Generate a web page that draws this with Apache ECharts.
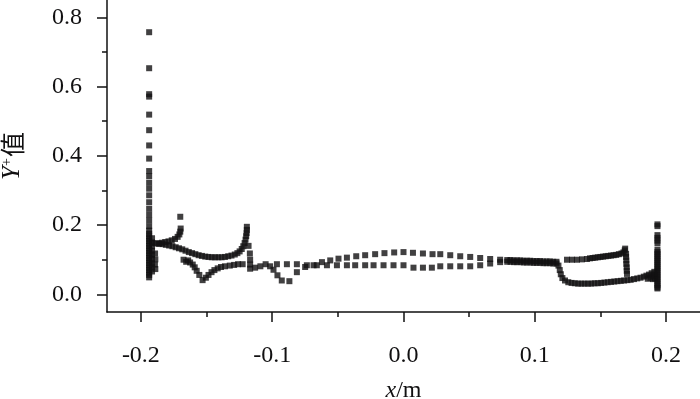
<!DOCTYPE html>
<html>
<head>
<meta charset="utf-8">
<script src="https://cdn.jsdelivr.net/npm/echarts@6/dist/echarts.min.js"></script>
<style>
html, body { margin: 0; padding: 0; background: #fff; }
#chart { width: 700px; height: 399px; }
</style>
</head>
<body>
<div id="chart"></div>
<script>
// axis ranges and ticks
const xMin = -0.2258, xMax = 0.2258;
const yMin = -0.051, yMax = 0.85;
const xMajor = [-0.2, -0.1, 0, 0.1, 0.2];
const xMinor = [-0.15, -0.05, 0.05, 0.15];
const yMajor = [0, 0.2, 0.4, 0.6, 0.8];
const yMinor = [0.1, 0.3, 0.5, 0.7];

// left wall column
const leftWall = [
    [-0.1937, 0.757], [-0.1937, 0.653], [-0.1937, 0.578], [-0.1937, 0.571], [-0.1937, 0.519],
    [-0.1937, 0.474], [-0.1937, 0.430], [-0.1937, 0.392], [-0.1937, 0.356], [-0.1937, 0.341],
    [-0.1937, 0.322], [-0.1937, 0.305], [-0.1937, 0.286], [-0.1937, 0.266], [-0.1937, 0.247],
    [-0.1937, 0.230], [-0.1937, 0.214], [-0.1937, 0.197], [-0.1937, 0.184], [-0.1937, 0.175],
    [-0.1937, 0.168], [-0.1937, 0.161], [-0.1937, 0.154], [-0.1937, 0.147], [-0.1937, 0.140],
    [-0.1937, 0.133], [-0.1937, 0.126], [-0.1937, 0.119], [-0.1937, 0.112], [-0.1937, 0.105],
    [-0.1937, 0.098], [-0.1937, 0.091], [-0.1937, 0.084], [-0.1937, 0.077], [-0.1937, 0.070],
    [-0.1937, 0.063], [-0.1937, 0.056], [-0.1937, 0.049]
];
const leftWallInner = [
    [-0.1915, 0.162], [-0.1915, 0.150], [-0.1915, 0.138], [-0.1915, 0.126], [-0.1915, 0.114],
    [-0.1915, 0.102], [-0.1915, 0.090], [-0.1915, 0.078], [-0.1915, 0.066],
    [-0.1892, 0.118], [-0.1890, 0.101], [-0.1893, 0.086], [-0.1890, 0.073]
];

// curve from the wall to the spike at -0.12
const upperLeftCurve = [
    [-0.1910, 0.148], [-0.1885, 0.147], [-0.1860, 0.146], [-0.1835, 0.145], [-0.1810, 0.143],
    [-0.1785, 0.141], [-0.1760, 0.139], [-0.1735, 0.136], [-0.1710, 0.133], [-0.1685, 0.130],
    [-0.1660, 0.126], [-0.1635, 0.122], [-0.1610, 0.119], [-0.1585, 0.116], [-0.1560, 0.113],
    [-0.1535, 0.111], [-0.1510, 0.109], [-0.1485, 0.108], [-0.1460, 0.107], [-0.1435, 0.107],
    [-0.1410, 0.107], [-0.1385, 0.107], [-0.1360, 0.108], [-0.1335, 0.110], [-0.1310, 0.112],
    [-0.1285, 0.115], [-0.1265, 0.119], [-0.1248, 0.124], [-0.1232, 0.131], [-0.1220, 0.139],
    [-0.1210, 0.148], [-0.1203, 0.158], [-0.1198, 0.168], [-0.1195, 0.177], [-0.1193, 0.186],
    [-0.1193, 0.195]
];
const spikeBranch = [
    [-0.1700, 0.224], [-0.1697, 0.190], [-0.1700, 0.181], [-0.1707, 0.173], [-0.1720, 0.166],
    [-0.1740, 0.160], [-0.1765, 0.156], [-0.1790, 0.153], [-0.1815, 0.151], [-0.1840, 0.149],
    [-0.1865, 0.147]
];
const dipBranch = [
    [-0.1675, 0.100], [-0.1655, 0.094], [-0.1640, 0.098], [-0.1625, 0.092], [-0.1605, 0.086],
    [-0.1590, 0.078], [-0.1575, 0.068], [-0.1555, 0.056], [-0.1530, 0.041], [-0.1505, 0.048],
    [-0.1485, 0.056], [-0.1462, 0.064], [-0.1440, 0.070], [-0.1415, 0.075], [-0.1390, 0.079],
    [-0.1360, 0.081], [-0.1323, 0.083], [-0.1290, 0.085], [-0.1260, 0.087], [-0.1225, 0.087]
];
const spikeDown = [
    [-0.1180, 0.140], [-0.1170, 0.118], [-0.1168, 0.100], [-0.1168, 0.086]
];
const waveBranch = [
    [-0.1168, 0.074], [-0.1130, 0.077], [-0.1090, 0.081], [-0.1050, 0.087], [-0.1016, 0.081],
    [-0.0990, 0.071], [-0.0960, 0.055], [-0.0927, 0.040], [-0.0869, 0.038], [-0.0812, 0.064],
    [-0.0749, 0.079]
];

// middle rows
const rowLower = [
    [-0.0964, 0.087], [-0.0888, 0.087], [-0.0812, 0.087], [-0.0736, 0.084], [-0.0660, 0.084],
    [-0.0583, 0.084], [-0.0507, 0.084], [-0.0431, 0.084], [-0.0368, 0.084], [-0.0292, 0.084],
    [-0.0228, 0.084], [-0.0152, 0.084], [-0.0076, 0.084], [0.0000, 0.084], [0.0076, 0.077],
    [0.0148, 0.077], [0.0216, 0.077], [0.0280, 0.081], [0.0356, 0.081], [0.0432, 0.081],
    [0.0508, 0.081], [0.0584, 0.084], [0.0660, 0.089], [0.0736, 0.093]
];
const rowUpper = [
    [-0.0685, 0.084], [-0.0621, 0.093], [-0.0558, 0.098], [-0.0495, 0.103], [-0.0431, 0.106],
    [-0.0360, 0.110], [-0.0292, 0.113], [-0.0216, 0.116], [-0.0145, 0.119], [-0.0071, 0.121],
    [0.0000, 0.122], [0.0072, 0.120], [0.0148, 0.118], [0.0221, 0.116], [0.0280, 0.116],
    [0.0356, 0.113], [0.0432, 0.110], [0.0508, 0.108], [0.0584, 0.105], [0.0660, 0.102],
    [0.0736, 0.100]
];
const bandUpper = [
    [0.0790, 0.099], [0.0815, 0.099], [0.0840, 0.098], [0.0865, 0.098], [0.0890, 0.098],
    [0.0915, 0.097], [0.0940, 0.097], [0.0965, 0.097], [0.0990, 0.096], [0.1015, 0.096],
    [0.1040, 0.096], [0.1065, 0.095], [0.1090, 0.095], [0.1115, 0.095], [0.1140, 0.094],
    [0.1165, 0.094]
];
const bandLower = [
    [0.0790, 0.094], [0.0815, 0.094], [0.0840, 0.093], [0.0865, 0.093], [0.0890, 0.093],
    [0.0915, 0.092], [0.0940, 0.092], [0.0965, 0.092], [0.0990, 0.091], [0.1015, 0.091],
    [0.1040, 0.091], [0.1065, 0.090], [0.1090, 0.090], [0.1115, 0.090], [0.1140, 0.089],
    [0.1165, 0.089]
];

// right part
const rightBottom = [
    [0.1180, 0.083], [0.1190, 0.070], [0.1198, 0.058], [0.1210, 0.047], [0.1230, 0.040],
    [0.1255, 0.035], [0.1280, 0.033], [0.1305, 0.032], [0.1330, 0.031], [0.1355, 0.031],
    [0.1380, 0.031], [0.1405, 0.031], [0.1430, 0.031], [0.1455, 0.032], [0.1480, 0.032],
    [0.1505, 0.033], [0.1530, 0.034], [0.1555, 0.035], [0.1580, 0.036], [0.1605, 0.037],
    [0.1630, 0.038], [0.1655, 0.039], [0.1680, 0.040], [0.1705, 0.041], [0.1730, 0.042],
    [0.1755, 0.044], [0.1780, 0.046], [0.1805, 0.048], [0.1830, 0.051], [0.1850, 0.054],
    [0.1870, 0.057], [0.1890, 0.061], [0.1910, 0.065],
    [0.1860, 0.045], [0.1880, 0.048], [0.1900, 0.052], [0.1915, 0.056], [0.1900, 0.044],
    [0.1915, 0.046]
];
const rightUpper = [
    [0.1245, 0.100], [0.1283, 0.100], [0.1321, 0.100], [0.1359, 0.101], [0.1397, 0.102],
    [0.1420, 0.104], [0.1440, 0.105], [0.1460, 0.106], [0.1480, 0.107], [0.1500, 0.108],
    [0.1520, 0.109], [0.1540, 0.110], [0.1560, 0.111], [0.1580, 0.112], [0.1600, 0.113],
    [0.1620, 0.114], [0.1640, 0.116], [0.1660, 0.118], [0.1675, 0.121], [0.1685, 0.127],
    [0.1688, 0.132],
    [0.1695, 0.117], [0.1695, 0.108], [0.1697, 0.098], [0.1697, 0.088], [0.1700, 0.078],
    [0.1700, 0.068], [0.1702, 0.059]
];
const rightWall = [
    [0.1934, 0.202], [0.1934, 0.197], [0.1934, 0.171], [0.1934, 0.163], [0.1934, 0.155],
    [0.1934, 0.147], [0.1934, 0.128], [0.1934, 0.122], [0.1934, 0.116], [0.1934, 0.110],
    [0.1934, 0.104], [0.1934, 0.098], [0.1934, 0.092], [0.1934, 0.086], [0.1934, 0.080],
    [0.1934, 0.074], [0.1934, 0.068], [0.1934, 0.062], [0.1934, 0.056], [0.1934, 0.050],
    [0.1934, 0.044], [0.1934, 0.038], [0.1934, 0.032], [0.1934, 0.026], [0.1934, 0.020],
    [0.1934, 0.017]
];

const ink = "#111011";
const serif = "'Liberation Serif', 'Times New Roman', Times, serif";

const allPoints = [].concat(
    leftWall, leftWallInner, upperLeftCurve, spikeBranch, dipBranch, spikeDown, waveBranch,
    rowLower, rowUpper, bandUpper, bandLower, rightBottom, rightUpper, rightWall
);

const fmt = (v) => v.toFixed(1);

const option = {
    animation: false,
    backgroundColor: "#fff",
    grid: {
        left: 107,
        right: 0,
        top: 0,
        bottom: 87,
        containLabel: false,
        outerBoundsMode: "none",
    },
    xAxis: [
        {
            type: "value",
            min: xMin,
            max: xMax,
            position: "bottom",
            name: "{i|x}/m",
            nameLocation: "middle",
            nameGap: 67,
            nameMoveOverlap: false,
            nameTextStyle: {
                color: ink,
                fontFamily: serif,
                fontSize: 24,
                rich: {
                    i: { fontStyle: "italic", fontFamily: serif, fontSize: 24, color: ink },
                },
            },
            axisLine: { show: true, onZero: false, lineStyle: { color: ink, width: 1.5 } },
            axisTick: { show: true, customValues: xMajor, length: 10, lineStyle: { color: ink, width: 1.5 } },
            axisLabel: {
                customValues: xMajor,
                formatter: fmt,
                margin: 32,
                color: ink,
                fontFamily: serif,
                fontSize: 24,
            },
            splitLine: { show: false },
        },
        {
            // minor ticks
            type: "value",
            min: xMin,
            max: xMax,
            position: "bottom",
            axisLine: { show: false, onZero: false },
            axisTick: { show: true, customValues: xMinor, length: 5, lineStyle: { color: ink, width: 1.5 } },
            axisLabel: { show: false },
            splitLine: { show: false },
        },
    ],
    yAxis: [
        {
            type: "value",
            min: yMin,
            max: yMax,
            position: "left",
            name: "{i|Y}{s|+}{c|值}",
            nameLocation: "middle",
            nameGap: 82,
            nameMoveOverlap: false,
            nameTextStyle: {
                color: ink,
                fontFamily: serif,
                fontSize: 24,
                rich: {
                    i: { fontStyle: "italic", fontFamily: serif, fontSize: 25, color: ink },
                    s: { fontFamily: serif, fontSize: 14, color: ink, verticalAlign: "top", padding: [0, 1, 8, 0] },
                    c: { fontFamily: "Noto Sans CJK SC", fontSize: 25, color: ink },
                },
            },
            axisLine: { show: true, onZero: false, lineStyle: { color: ink, width: 1.5 } },
            axisTick: { show: true, customValues: yMajor, length: 10, lineStyle: { color: ink, width: 1.5 } },
            axisLabel: {
                customValues: yMajor,
                formatter: fmt,
                margin: 25,
                color: ink,
                fontFamily: serif,
                fontSize: 24,
            },
            splitLine: { show: false },
        },
        {
            type: "value",
            min: yMin,
            max: yMax,
            position: "left",
            axisLine: { show: false, onZero: false },
            axisTick: { show: true, customValues: yMinor, length: 5, lineStyle: { color: ink, width: 1.5 } },
            axisLabel: { show: false },
            splitLine: { show: false },
        },
    ],
    series: [
        {
            type: "scatter",
            xAxisIndex: 0,
            yAxisIndex: 0,
            symbol: "rect",
            symbolSize: 6,
            itemStyle: { color: ink },
            data: allPoints,
        },
    ],
};

const chart = echarts.init(document.getElementById("chart"), null, { renderer: "canvas" });
chart.setOption(option);
</script>
</body>
</html>
